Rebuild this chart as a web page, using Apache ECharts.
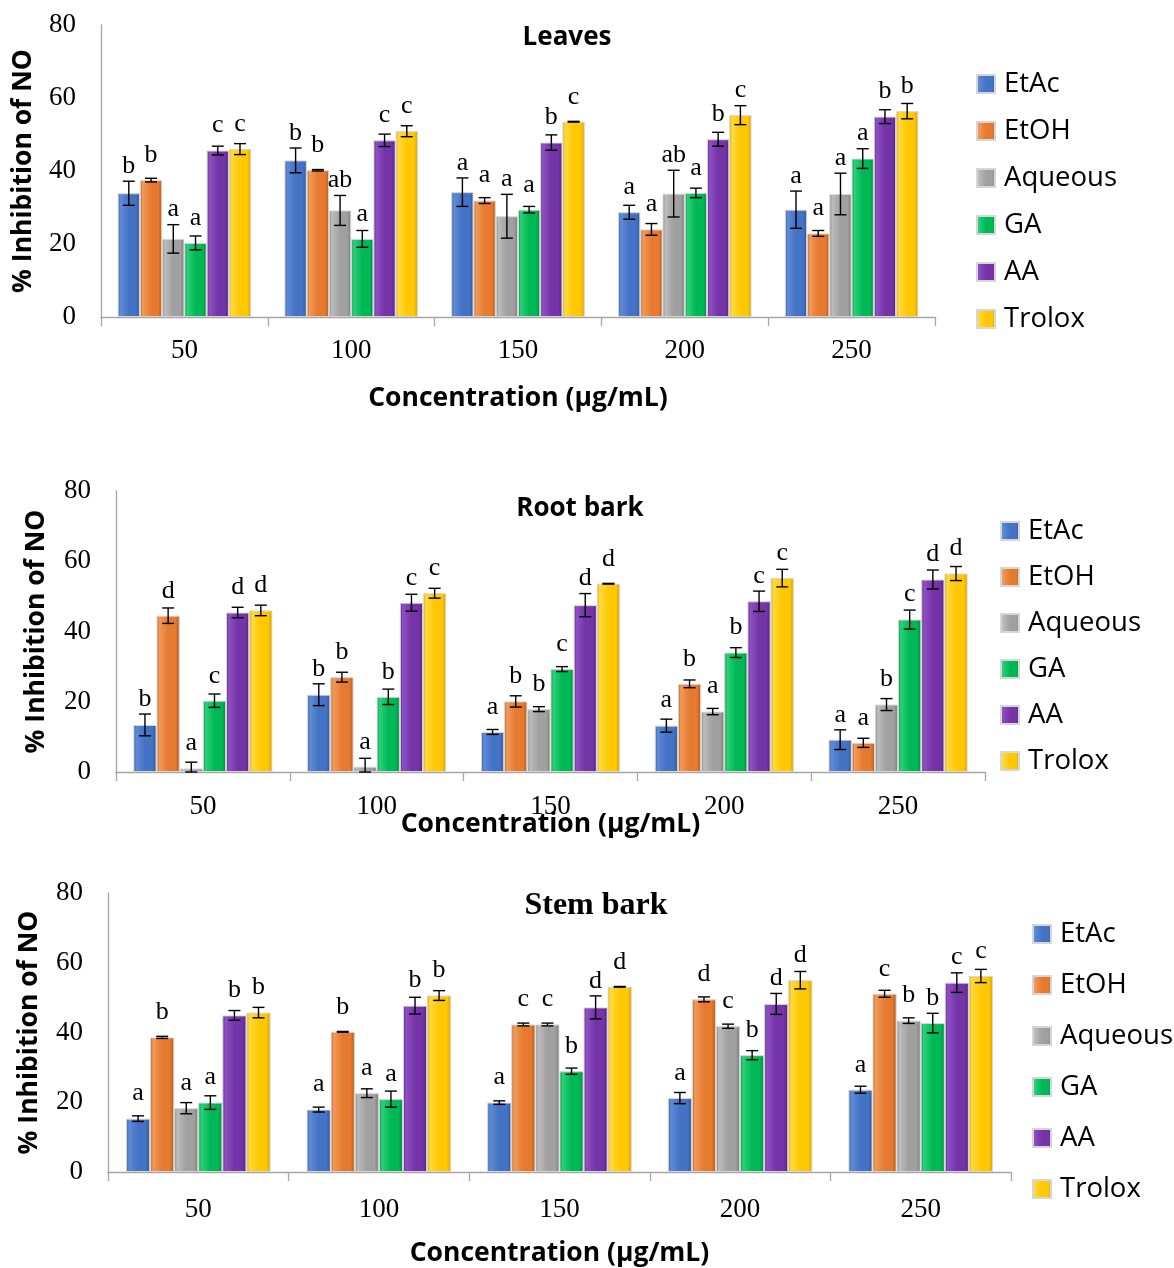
<!DOCTYPE html>
<html><head><meta charset="utf-8">
<script src="https://cdn.jsdelivr.net/npm/echarts@6/dist/echarts.min.js"></script>
<style>html,body{margin:0;padding:0;background:#fff}#c{width:1174px;height:1268px}</style>
</head><body><div id="c"></div>
<script>
const categories = ['50', '100', '150', '200', '250'];
const seriesNames = ['EtAc', 'EtOH', 'Aqueous', 'GA', 'AA', 'Trolox'];
const panelTitles = ['Leaves', 'Root bark', 'Stem bark'];
const yAxisName = '% Inhibition of NO';
const xAxisName = 'Concentration (µg/mL)';
const yMin = 0, yMax = 80, yStep = 20;

// rows = series (EtAc, EtOH, Aqueous, GA, AA, Trolox), columns = concentrations
const leavesMean = [
  [33.9, 42.9, 34.2, 28.7, 29.4],
  [37.5, 40.2, 31.9, 24.0, 22.9],
  [21.4, 29.2, 27.6, 33.8, 33.7],
  [20.3, 21.4, 29.4, 34.0, 43.4],
  [45.6, 48.4, 47.8, 48.7, 54.9],
  [46.0, 50.9, 53.5, 55.3, 56.4]
];
const leavesErr = [
  [3.3, 3.4, 3.9, 1.9, 5.1],
  [0.5, 0.2, 0.8, 1.6, 0.8],
  [3.9, 4.1, 6.0, 6.4, 5.7],
  [1.9, 2.3, 0.9, 1.3, 2.7],
  [1.2, 1.7, 2.1, 1.9, 1.9],
  [1.5, 1.5, 0.1, 2.6, 2.1]
];
const leavesLetters = [
  ['b', 'b', 'a', 'a', 'a'],
  ['b', 'b', 'a', 'a', 'a'],
  ['a', 'ab', 'a', 'ab', 'a'],
  ['a', 'a', 'a', 'a', 'a'],
  ['c', 'c', 'b', 'b', 'b'],
  ['c', 'c', 'c', 'c', 'b']
];

const rootMean = [
  [13.4, 22.0, 11.4, 13.2, 9.2],
  [44.5, 27.0, 20.1, 25.1, 8.3],
  [1.0, 1.5, 17.9, 17.2, 19.2],
  [20.3, 21.4, 29.3, 34.0, 43.4],
  [45.4, 48.2, 47.5, 48.6, 54.8],
  [46.0, 50.9, 53.6, 55.2, 56.5]
];
const rootErr = [
  [3.1, 3.1, 0.7, 1.85, 2.8],
  [2.2, 1.4, 1.6, 1.1, 1.3],
  [1.8, 2.4, 0.7, 0.9, 1.7],
  [1.9, 2.2, 0.7, 1.4, 2.7],
  [1.5, 2.4, 3.3, 2.9, 2.7],
  [1.5, 1.4, 0.1, 2.5, 2.0]
];
const rootLetters = [
  ['b', 'b', 'a', 'a', 'a'],
  ['d', 'b', 'b', 'b', 'a'],
  ['a', 'a', 'b', 'a', 'b'],
  ['c', 'b', 'c', 'b', 'c'],
  ['d', 'c', 'd', 'c', 'd'],
  ['d', 'c', 'd', 'c', 'd']
];

const stemMean = [
  [15.3, 17.9, 19.9, 21.2, 23.6],
  [38.6, 40.2, 42.3, 49.5, 51.1],
  [18.3, 22.6, 42.3, 41.8, 43.4],
  [19.9, 20.9, 28.9, 33.5, 42.7],
  [44.9, 47.7, 47.2, 48.2, 54.3],
  [45.7, 50.6, 53.1, 55.0, 56.2]
];
const stemErr = [
  [0.8, 0.7, 0.5, 1.6, 1.0],
  [0.3, 0.1, 0.4, 0.7, 1.0],
  [1.6, 1.25, 0.4, 0.6, 0.8],
  [1.95, 2.3, 0.9, 1.3, 2.8],
  [1.4, 2.4, 3.3, 3.0, 2.8],
  [1.5, 1.4, 0.1, 2.5, 1.9]
];
const stemLetters = [
  ['a', 'a', 'a', 'a', 'a'],
  ['b', 'b', 'c', 'd', 'c'],
  ['a', 'a', 'c', 'c', 'b'],
  ['a', 'a', 'b', 'b', 'b'],
  ['b', 'b', 'd', 'd', 'c'],
  ['b', 'b', 'd', 'd', 'c']
];

// ---- styling / layout (not data) ----
const SANS = '"Open Sans", "Noto Sans", sans-serif';
const SERIF = '"Liberation Serif", "DejaVu Serif", serif';
const palette = [
  { base: '#4472C4', light: '#5F8BD6', dark: '#2F5597' },
  { base: '#E57A30', light: '#F29A5A', dark: '#B65A16' },
  { base: '#A0A0A0', light: '#BDBDBD', dark: '#7A7A7A' },
  { base: '#00B856', light: '#2BD178', dark: '#008A3E' },
  { base: '#7434A8', light: '#8E50C2', dark: '#562380' },
  { base: '#FFC800', light: '#FFDA40', dark: '#D9A000' }
];
const panels = [
  { mean: leavesMean, err: leavesErr, letters: leavesLetters,
    grid: { left: 101, top: 25, width: 834, height: 292 },
    title: { x: 567, y: 25, font: SANS, size: 26 },
    legend: { left: 976, top: 70, gap: 19 },
    yNameGap: 64, xNameGap: 68, xLabelMargin: 20 },
  { mean: rootMean, err: rootErr, letters: rootLetters,
    grid: { left: 116, top: 491, width: 869, height: 281 },
    title: { x: 580, y: 496, font: SANS, size: 26 },
    legend: { left: 1000, top: 517, gap: 18 },
    yNameGap: 66, xNameGap: 39, xLabelMargin: 21 },
  { mean: stemMean, err: stemErr, letters: stemLetters,
    grid: { left: 108, top: 893, width: 903, height: 279 },
    title: { x: 596, y: 890, font: SERIF, size: 32 },
    legend: { left: 1032, top: 920, gap: 23 },
    yNameGap: 65, xNameGap: 68, xLabelMargin: 24 }
];

function barColor(p) {
  return {
    type: 'linear', x: 0, y: 0, x2: 1, y2: 0,
    colorStops: [
      { offset: 0, color: p.dark },
      { offset: 0.12, color: p.light },
      { offset: 0.5, color: p.base },
      { offset: 0.82, color: p.base },
      { offset: 1, color: p.dark }
    ]
  };
}

const option = {
  animation: false,
  backgroundColor: '#ffffff',
  title: [], grid: [], xAxis: [], yAxis: [], legend: [], series: []
};

panels.forEach((pn, pi) => {
  option.title.push({
    text: panelTitles[pi], left: pn.title.x, top: pn.title.y, textAlign: 'center', padding: 0,
    textStyle: { fontFamily: pn.title.font, fontWeight: 'bold', fontSize: pn.title.size, color: '#000' }
  });
  option.grid.push(Object.assign({ containLabel: false }, pn.grid));
  option.xAxis.push({
    type: 'category', gridIndex: pi, data: categories,
    name: xAxisName, nameLocation: 'middle', nameGap: pn.xNameGap, nameMoveOverlap: false,
    nameTextStyle: { fontFamily: SANS, fontWeight: 'bold', fontSize: 26.5, color: '#000' },
    axisLine: { lineStyle: { color: '#A6A6A6', width: 1.3 } },
    axisTick: { show: true, length: 9, lineStyle: { color: '#A6A6A6', width: 1.3 } },
    axisLabel: { fontFamily: SERIF, fontSize: 27, color: '#000', margin: pn.xLabelMargin },
    splitLine: { show: false }
  });
  option.yAxis.push({
    type: 'value', gridIndex: pi, min: yMin, max: yMax, interval: yStep,
    name: yAxisName, nameLocation: 'middle', nameGap: pn.yNameGap, nameRotate: 90, nameMoveOverlap: false,
    nameTextStyle: { fontFamily: SANS, fontWeight: 'bold', fontSize: 26.5, color: '#000' },
    axisLine: { show: true, lineStyle: { color: '#A6A6A6', width: 1.3 } },
    axisTick: { show: false },
    axisLabel: { fontFamily: SERIF, fontSize: 27, color: '#000', margin: 25 },
    splitLine: { show: false }
  });
  option.legend.push({
    orient: 'vertical', left: pn.legend.left, top: pn.legend.top, padding: 0,
    itemGap: pn.legend.gap, itemWidth: 18, itemHeight: 18, icon: 'rect',
    selectedMode: false, data: seriesNames,
    textStyle: { fontFamily: SANS, fontSize: 27.5, color: '#000', lineHeight: 27, padding: [0, 0, 0, 4] }
  });

  seriesNames.forEach((name, si) => {
    const pal = palette[si];
    option.series.push({
      type: 'bar', name: name, xAxisIndex: pi, yAxisIndex: pi,
      data: pn.mean[si],
      barGap: '0%', barCategoryGap: '20%',
      itemStyle: { color: barColor(pal), borderColor: '#D6D6D6', borderWidth: 1 }
    });
    const errs = pn.err[si];
    const lets = pn.letters[si];
    option.series.push({
      type: 'custom', name: name + ' err', xAxisIndex: pi, yAxisIndex: pi, z: 10, silent: true,
      data: pn.mean[si].map((m, ci) => [ci, m, errs[ci]]),
      renderItem: function (params, api) {
        const ci = api.value(0), m = api.value(1), e = api.value(2);
        const c = api.coord([ci, m]);
        const band = api.size([1, 0])[0];
        const bw = band * 0.8 / 6;
        const x = c[0] - band * 0.4 + (si + 0.5) * bw;
        const yTop = api.coord([ci, m + e])[1];
        const yBot = api.coord([ci, Math.max(0, m - e)])[1];
        const cap = 6;
        const st = { stroke: '#000', lineWidth: 1.4 };
        const letterBottom = Math.min(c[1] - 17, yTop - 7);
        return {
          type: 'group',
          children: [
            { type: 'line', shape: { x1: x, y1: yTop, x2: x, y2: yBot }, style: st },
            { type: 'line', shape: { x1: x - cap, y1: yTop, x2: x + cap, y2: yTop }, style: st },
            { type: 'line', shape: { x1: x - cap, y1: yBot, x2: x + cap, y2: yBot }, style: st },
            { type: 'text', style: { text: lets[params.dataIndex], x: x, y: letterBottom + 5,
                textAlign: 'center', textVerticalAlign: 'bottom',
                font: '26px ' + SERIF, fill: '#000' } }
          ]
        };
      }
    });
  });
});

const chart = echarts.init(document.getElementById('c'), null, { renderer: 'canvas' });
chart.setOption(option);
</script>
</body></html>
